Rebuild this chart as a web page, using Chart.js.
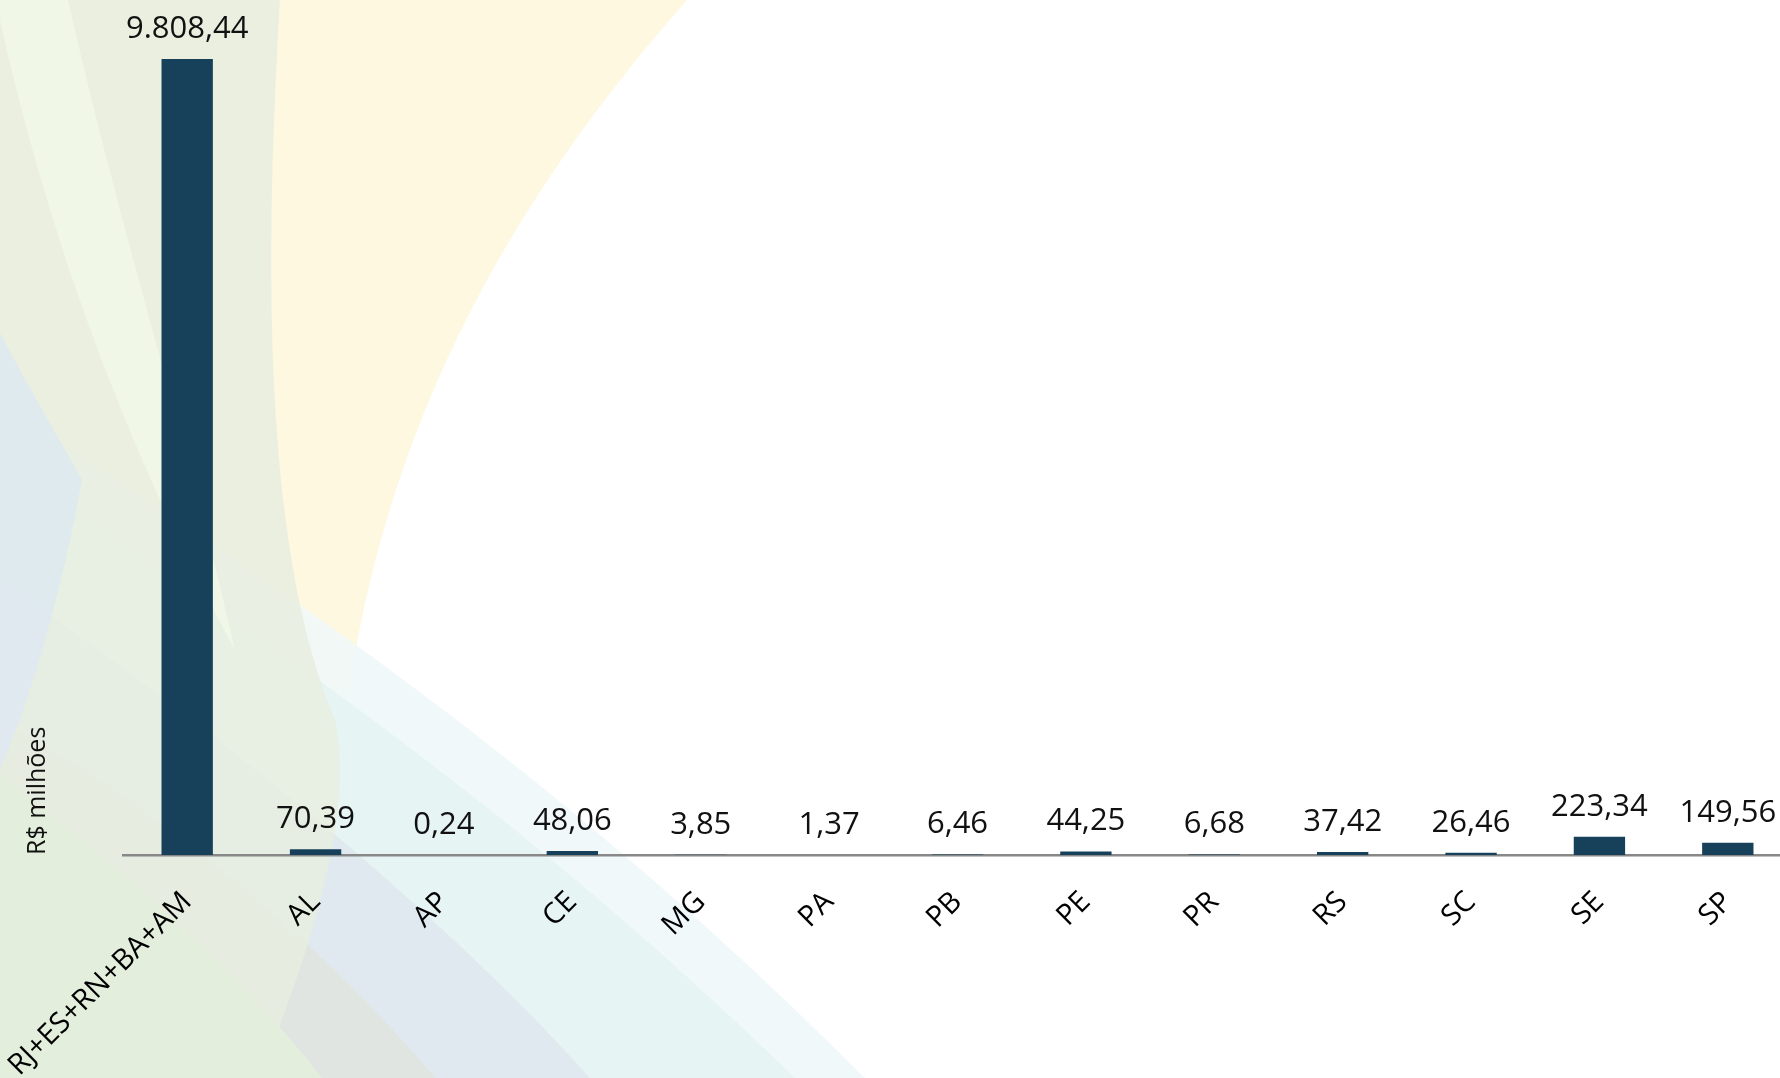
<!DOCTYPE html>
<html lang="pt-BR">
<head>
<meta charset="utf-8">
<title>R$ milhões por estado</title>
<script src="https://cdn.jsdelivr.net/npm/chart.js@4/dist/chart.umd.min.js"></script>
<style>
    html, body { margin: 0; padding: 0; overflow: hidden; background: #fff; }
    #wrap { width: 1792px; height: 1078px; }
</style>
</head>
<body>
<div id="wrap"><canvas id="valoresChart" width="1792" height="1078"></canvas></div>
<script>
// Dados do gráfico
const estados = ['RJ+ES+RN+BA+AM', 'AL', 'AP', 'CE', 'MG', 'PA', 'PB', 'PE', 'PR', 'RS', 'SC', 'SE', 'SP'];
const valores = [9808.44, 70.39, 0.24, 48.06, 3.85, 1.37, 6.46, 44.25, 6.68, 37.42, 26.46, 223.34, 149.56];
const tituloEixoY = 'R$ milhões';

// formata no padrão brasileiro: 9.808,44
function formatarBR(v) {
    const partes = v.toFixed(2).split('.');
    const inteiro = partes[0].replace(/\B(?=(\d{3})+(?!\d))/g, '.');
    return inteiro + ',' + partes[1];
}

function faixa(c, cor, pontos) {
    c.fillStyle = cor;
    c.beginPath();
    pontos(c);
    c.closePath();
    c.fill();
}

// Fundo decorativo (faixas curvas claras à esquerda)
const fundoPlugin = {
    id: 'fundo',
    beforeDraw(chart) {
        const c = chart.ctx;
        const H = chart.height;
        c.save();
        c.fillStyle = '#ffffff';
        c.fillRect(0, 0, chart.width, H);

        // amarelo claro
        faixa(c, '#fef8e1', p => {
            p.moveTo(0, 0);
            p.lineTo(687, 0);
            p.bezierCurveTo(520, 190, 360, 440, 338, 800);
            p.lineTo(336, H);
            p.lineTo(0, H);
        });

        // faixas ciano/azuladas descendo para a direita
        faixa(c, 'rgba(240, 247, 248, 0.9)', p => {
            p.moveTo(0, 400);
            p.bezierCurveTo(200, 540, 520, 730, 865, H);
            p.lineTo(0, H);
        });
        faixa(c, 'rgba(229, 243, 242, 0.95)', p => {
            p.moveTo(0, 460);
            p.bezierCurveTo(220, 610, 500, 790, 795, H);
            p.lineTo(0, H);
        });
        faixa(c, 'rgba(222, 232, 238, 0.95)', p => {
            p.moveTo(0, 580);
            p.bezierCurveTo(200, 720, 420, 890, 590, H);
            p.lineTo(0, H);
        });
        faixa(c, 'rgba(223, 229, 224, 0.95)', p => {
            p.moveTo(0, 720);
            p.bezierCurveTo(150, 800, 320, 940, 435, H);
            p.lineTo(0, H);
        });

        // verde acinzentado (coluna da esquerda)
        faixa(c, 'rgba(231, 237, 223, 0.85)', p => {
            p.moveTo(0, 0);
            p.lineTo(280, 0);
            p.bezierCurveTo(262, 300, 268, 560, 335, 720);
            p.bezierCurveTo(350, 800, 330, 900, 260, H);
            p.lineTo(0, H);
        });

        // faixa verde clara
        faixa(c, 'rgba(242, 248, 230, 0.85)', p => {
            p.moveTo(0, 20);
            p.bezierCurveTo(40, 200, 110, 420, 235, 650);
            p.bezierCurveTo(190, 450, 120, 230, 68, 0);
            p.lineTo(0, 0);
        });

        // azulado na borda esquerda
        faixa(c, 'rgba(222, 233, 239, 0.95)', p => {
            p.moveTo(0, 333);
            p.bezierCurveTo(30, 390, 60, 440, 82, 480);
            p.bezierCurveTo(60, 600, 30, 700, 0, 770);
        });

        // verde claro embaixo à esquerda
        faixa(c, '#e4eedc', p => {
            p.moveTo(0, 775);
            p.bezierCurveTo(110, 860, 230, 960, 322, H);
            p.lineTo(0, H);
        });
        c.restore();
    }
};

// Rótulos de valor acima das barras
const rotulosPlugin = {
    id: 'rotulos',
    afterDatasetsDraw(chart) {
        const c = chart.ctx;
        const meta = chart.getDatasetMeta(0);
        c.save();
        c.font = '31px "Open Sans"';
        c.fillStyle = '#111';
        c.textAlign = 'center';
        c.textBaseline = 'alphabetic';
        meta.data.forEach((bar, i) => {
            c.fillText(formatarBR(valores[i]), bar.x, bar.y - 21);
        });
        c.restore();
    }
};

const ctx = document.getElementById('valoresChart').getContext('2d');
new Chart(ctx, {
    type: 'bar',
    data: {
        labels: estados,
        datasets: [{
            data: valores,
            backgroundColor: '#17415b',
            borderWidth: 0,
            barPercentage: 0.4,
            categoryPercentage: 1
        }]
    },
    options: {
        responsive: false,
        animation: false,
        layout: { padding: { top: 59, left: 0, right: 0, bottom: 0 } },
        plugins: {
            legend: { display: false },
            tooltip: { enabled: false }
        },
        scales: {
            x: {
                grid: { display: false },
                border: { display: true, color: '#888888', width: 2.5 },
                ticks: {
                    color: '#000',
                    font: { family: 'Open Sans', size: 29 },
                    minRotation: 45,
                    maxRotation: 45,
                    padding: 22,
                    autoSkip: false
                },
                afterFit: s => {
                    s.height = 1078 - 855;
                    s.paddingLeft = 0;
                    s.paddingRight = 0;
                }
            },
            y: {
                min: 0,
                max: Math.max(...valores),
                grid: { display: false },
                border: { display: false },
                ticks: { display: false },
                title: {
                    display: true,
                    text: tituloEixoY,
                    align: 'start',
                    color: '#111',
                    font: { family: 'Open Sans', size: 25 },
                    padding: { top: 23, bottom: 0 }
                },
                afterFit: s => { s.width = 123; }
            }
        }
    },
    plugins: [fundoPlugin, rotulosPlugin]
});
</script>
</body>
</html>
